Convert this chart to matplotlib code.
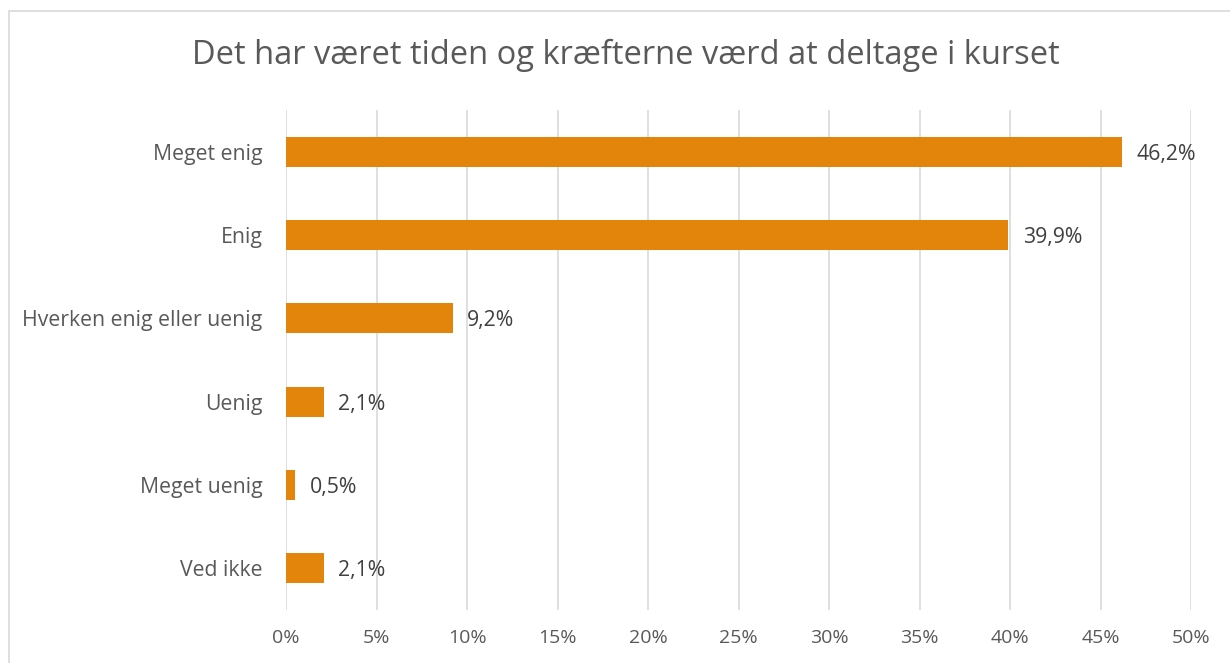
import matplotlib.pyplot as plt
from matplotlib.patches import Rectangle
from matplotlib.ticker import FuncFormatter

# ------------ Data -------------
categories = ["Meget enig", "Enig", "Hverken enig eller uenig",
              "Uenig", "Meget uenig", "Ved ikke"]
values = [46.2, 39.9, 9.2, 2.1, 0.5, 2.1]
labels = ["46,2%", "39,9%", "9,2%", "2,1%", "0,5%", "2,1%"]
title = "Det har været tiden og kræfterne værd at deltage i kurset"

plt.rcParams["font.family"] = ["Open Sans", "DejaVu Sans"]

fig = plt.figure(figsize=(12.3, 6.63), dpi=100)
ax = fig.add_axes([286 / 1230, 1 - 610 / 663, (1191 - 286) / 1230, 500 / 663])

# outer chart border
fig.patches.append(Rectangle((9 / 1230, -0.1), 1.2, 1.1 - 11 / 663,
                             transform=fig.transFigure, fill=False,
                             edgecolor="#d9d9d9", linewidth=1.2))

y = list(range(len(categories)))
ax.barh(y, values, height=0.36, color="#e3840b", zorder=3)
for yi, v, lab in zip(y, values, labels):
    ax.text(v + 0.8, yi, lab, va="center_baseline", ha="left",
            fontsize=15.3, color="#404040")

ax.set_xlim(0, 50)
ax.set_ylim(len(categories) - 0.5, -0.5)
ax.set_xticks(range(0, 51, 5))
ax.xaxis.set_major_formatter(FuncFormatter(lambda x, _: f"{x:.0f}%"))
ax.set_yticks(y)
ax.set_yticklabels(categories)
ax.tick_params(axis="both", length=0, labelcolor="#595959")
ax.tick_params(axis="x", pad=14, labelsize=14)
ax.tick_params(axis="y", pad=17, labelsize=15.3)

ax.grid(axis="x", color="#d9d9d9", linewidth=1.2, zorder=0)
for s in ax.spines.values():
    s.set_visible(False)

fig.text(0.509, 1 - 55 / 663, title, ha="center", va="center",
         fontsize=23.5, color="#595959")

fig.savefig("out.png", dpi=100)
